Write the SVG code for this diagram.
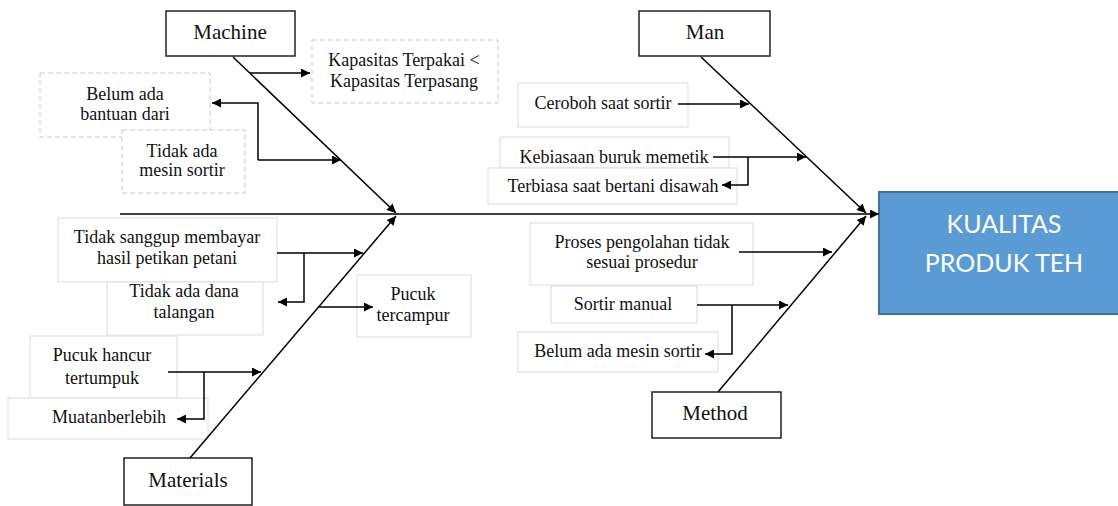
<svg xmlns="http://www.w3.org/2000/svg" width="1118" height="506" viewBox="0 0 1118 506">
<style>
.cat{fill:#fff;stroke:#222;stroke-width:1.5}
.sub{fill:#fff;stroke:#dcdcdc;stroke-width:1}
.dash{fill:#fff;stroke:#c8c8c8;stroke-width:1;stroke-dasharray:5 3}
.t{font-family:"Liberation Serif","Times New Roman",serif;font-size:18px;fill:#111;text-anchor:middle}
.ct{font-family:"Liberation Serif","Times New Roman",serif;font-size:21px;fill:#111;text-anchor:middle}
.eff{font-family:Lato,"Open Sans",sans-serif;font-size:25px;fill:#fff;text-anchor:middle}
.c{fill:none;stroke:#000;stroke-width:1.5}
.ca{fill:none;stroke:#000;stroke-width:1.5;marker-end:url(#ah)}
</style>
<defs>
<marker id="ah" viewBox="0 0 10 10" refX="10" refY="5" markerWidth="11" markerHeight="9" markerUnits="userSpaceOnUse" orient="auto">
<path d="M0,0 L10,5 L0,10 z" fill="#000"/>
</marker>
</defs>
<rect width="1118" height="506" fill="#fff"/>

<g id="effect">
<rect x="879" y="192" width="245" height="122" fill="#5B9BD5" stroke="#41719C" stroke-width="2"/>
<text class="eff" x="1004" y="233">KUALITAS</text>
<text class="eff" x="1004" y="272">PRODUK TEH</text>
</g>

<g id="machine"><rect class="cat" x="166" y="11" width="129" height="45"/><text class="ct" x="230" y="39">Machine</text></g>
<g id="man"><rect class="cat" x="639" y="11" width="131" height="45"/><text class="ct" x="705" y="39">Man</text></g>
<g id="materials"><rect class="cat" x="124" y="458" width="128" height="47"/><text class="ct" x="188" y="487">Materials</text></g>
<g id="method"><rect class="cat" x="652" y="392" width="129" height="46"/><text class="ct" x="715" y="420">Method</text></g>

<g id="kapasitas"><rect class="dash" x="312" y="40" width="186" height="63"/><text class="t" x="404" y="66">Kapasitas Terpakai &lt;</text><text class="t" x="404" y="87">Kapasitas Terpasang</text></g>
<g id="belum-bantuan"><rect class="dash" x="40" y="73" width="170" height="64"/><text class="t" x="125" y="100">Belum ada</text><text class="t" x="125" y="120">bantuan dari</text></g>
<g id="tidak-mesin"><rect class="dash" x="122" y="130" width="123" height="63"/><text class="t" x="182" y="157">Tidak ada</text><text class="t" x="182" y="176">mesin sortir</text></g>

<g id="tidak-sanggup"><rect class="sub" x="58" y="218" width="219" height="64"/><text class="t" x="167" y="243">Tidak sanggup membayar</text><text class="t" x="167" y="264">hasil petikan petani</text></g>
<g id="tidak-dana"><rect class="sub" x="107" y="282" width="156" height="53"/><text class="t" x="184" y="297">Tidak ada dana</text><text class="t" x="184" y="318">talangan</text></g>
<g id="pucuk-tercampur"><rect class="sub" x="357" y="275" width="114" height="62"/><text class="t" x="413" y="300">Pucuk</text><text class="t" x="413" y="321">tercampur</text></g>
<g id="pucuk-hancur"><rect class="sub" x="30" y="336" width="147" height="62"/><text class="t" x="102" y="361">Pucuk hancur</text><text class="t" x="102" y="384">tertumpuk</text></g>
<g id="muatan"><rect class="sub" x="8" y="398" width="200" height="41"/><text class="t" x="109" y="423">Muatanberlebih</text></g>

<g id="ceroboh"><rect class="sub" x="518" y="83" width="170" height="44"/><text class="t" x="603" y="109">Ceroboh saat sortir</text></g>
<g id="kebiasaan"><rect class="sub" x="500" y="137" width="229" height="31"/><text class="t" x="614" y="163">Kebiasaan buruk memetik</text></g>
<g id="terbiasa"><rect class="sub" x="488" y="168" width="249" height="36"/><text class="t" x="613" y="192">Terbiasa saat bertani disawah</text></g>
<g id="proses"><rect class="sub" x="530" y="223" width="223" height="62"/><text class="t" x="642" y="248">Proses pengolahan tidak</text><text class="t" x="642" y="268">sesuai prosedur</text></g>
<g id="sortir-manual"><rect class="sub" x="551" y="286" width="146" height="37"/><text class="t" x="623" y="310">Sortir manual</text></g>
<g id="belum-mesin"><rect class="sub" x="518" y="332" width="200" height="40"/><text class="t" x="618" y="357">Belum ada mesin sortir</text></g>

<g id="connectors">
<line class="ca" x1="120" y1="214" x2="879" y2="214"/>
<line class="ca" x1="233" y1="57" x2="396" y2="213"/>
<line class="ca" x1="190" y1="458" x2="396" y2="216"/>
<line class="ca" x1="701" y1="57" x2="866" y2="213"/>
<line class="ca" x1="718" y1="392" x2="866" y2="216"/>
<line class="ca" x1="250" y1="73" x2="310" y2="73"/>
<line class="ca" x1="258" y1="160" x2="341" y2="160"/>
<polyline class="ca" points="258,160 258,103 212,103"/>
<line class="ca" x1="277" y1="253" x2="363" y2="253"/>
<polyline class="ca" points="304,253 304,302 278,302"/>
<line class="ca" x1="318" y1="307" x2="373" y2="307"/>
<line class="ca" x1="168" y1="372" x2="261" y2="372"/>
<polyline class="ca" points="204,372 204,419 177,419"/>
<line class="ca" x1="678" y1="104" x2="749" y2="104"/>
<line class="ca" x1="713" y1="157" x2="806" y2="157"/>
<polyline class="ca" points="748,157 748,185 722,185"/>
<line class="ca" x1="739" y1="252" x2="832" y2="252"/>
<line class="ca" x1="697" y1="305" x2="788" y2="305"/>
<polyline class="ca" points="732,305 732,354 705,354"/>
</g>
</svg>
